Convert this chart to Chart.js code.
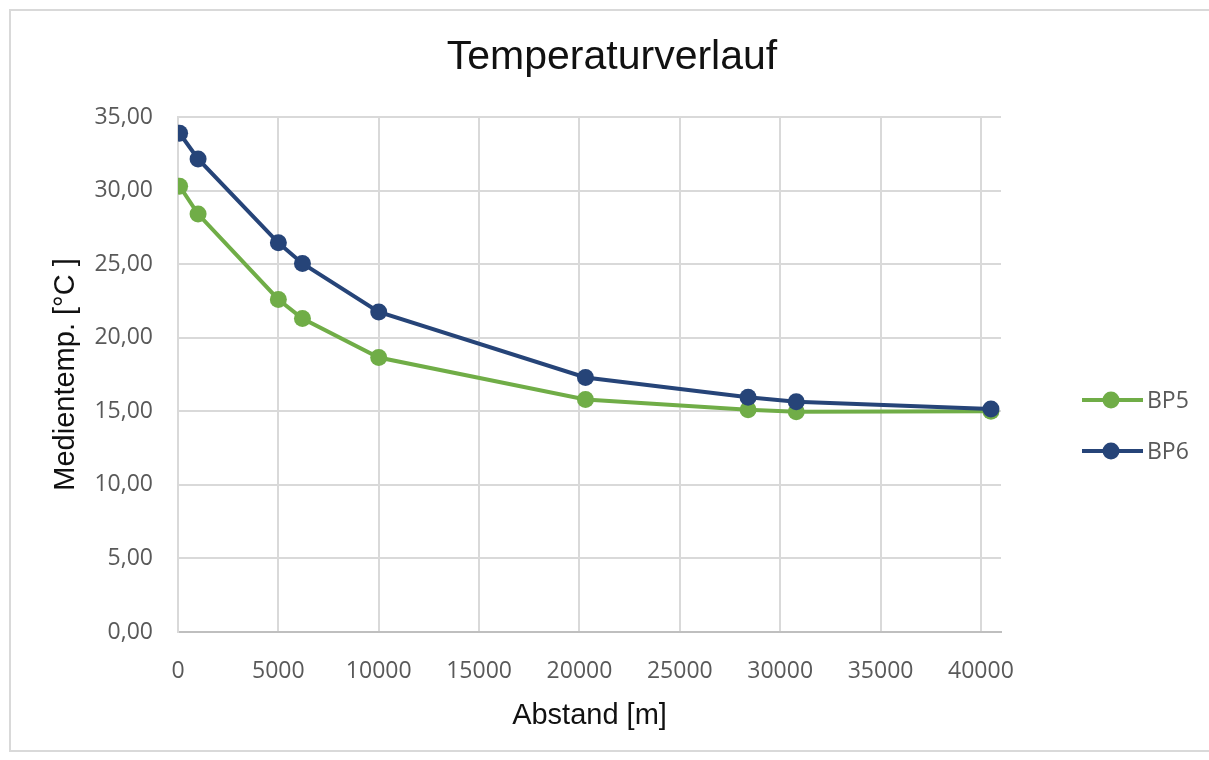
<!DOCTYPE html>
<html>
<head>
<meta charset="utf-8">
<script src="https://cdn.jsdelivr.net/npm/chart.js@4"></script>
<style>
  html, body { margin: 0; padding: 0; background: #ffffff; }
  #wrap { position: absolute; left: 0; top: 0; width: 1209px; height: 760px; }
</style>
</head>
<body>
<div id="wrap"><canvas id="c" width="1209" height="760"></canvas></div>
<script>
// ---- data ----
const distances = [80, 1000, 5000, 6200, 10000, 20300, 28400, 30800, 40500];
const bp5 = [30.3, 28.4, 22.6, 21.3, 18.65, 15.8, 15.1, 14.97, 15.0];
const bp6 = [33.9, 32.15, 26.45, 25.05, 21.75, 17.3, 15.95, 15.65, 15.15];
const seriesNames = ['BP5', 'BP6'];
const xTickValues = [0, 5000, 10000, 15000, 20000, 25000, 30000, 35000, 40000];
const yTickValues = [0, 5, 10, 15, 20, 25, 30, 35];
const chartTitle = 'Temperaturverlauf';
const xTitle = 'Abstand [m]';
const yTitle = 'Medientemp. [°C ]';

const GREEN = '#70AD47';
const BLUE = '#264478';
const GRID = '#D9D9D9';
const TICK = '#595959';
const TICKFONT = { family: '"Open Sans", "Noto Sans", sans-serif', size: 23 };
const TITLEFAMILY = '"Liberation Sans", Arial, sans-serif';

function pts(xs, ys) { return xs.map((x, i) => ({ x: x, y: ys[i] })); }

const frame = {
  id: 'frame',
  beforeDraw(chart) {
    const ctx = chart.ctx;
    ctx.save();
    ctx.fillStyle = '#ffffff';
    ctx.fillRect(0, 0, chart.width, chart.height);
    ctx.strokeStyle = '#D9D9D9';
    ctx.lineWidth = 2;
    ctx.strokeRect(10, 10, 1220, 741);
    ctx.restore();
  },
  afterDraw(chart) {
    const ctx = chart.ctx;
    ctx.save();
    ctx.fillStyle = '#111111';
    ctx.font = '41px ' + TITLEFAMILY;
    ctx.textAlign = 'center';
    ctx.textBaseline = 'middle';
    ctx.fillText(chartTitle, 612, 58);
    ctx.restore();
  }
};

const sideLegend = {
  id: 'sideLegend',
  afterDraw(chart) {
    const ctx = chart.ctx;
    const a = chart.chartArea;
    const x0 = a.right + 81;
    const yStart = a.top + 283;
    ctx.save();
    chart.data.datasets.forEach((ds, i) => {
      const y = yStart + i * 51;
      ctx.strokeStyle = ds.borderColor;
      ctx.lineWidth = 4;
      ctx.beginPath();
      ctx.moveTo(x0, y);
      ctx.lineTo(x0 + 61, y);
      ctx.stroke();
      ctx.fillStyle = ds.backgroundColor;
      ctx.beginPath();
      ctx.arc(x0 + 29, y, 8.5, 0, Math.PI * 2);
      ctx.fill();
      ctx.fillStyle = TICK;
      ctx.font = TICKFONT.size + 'px ' + TICKFONT.family;
      ctx.textAlign = 'left';
      ctx.textBaseline = 'middle';
      ctx.fillText(ds.label, x0 + 65, y + 1);
    });
    ctx.restore();
  }
};

new Chart(document.getElementById('c'), {
  type: 'line',
  data: {
    datasets: [
      {
        label: seriesNames[0], data: pts(distances, bp5),
        borderColor: GREEN, backgroundColor: GREEN, borderWidth: 4,
        pointRadius: 8.5, pointBackgroundColor: GREEN, pointBorderColor: GREEN, pointBorderWidth: 0,
        tension: 0, order: 1
      },
      {
        label: seriesNames[1], data: pts(distances, bp6),
        borderColor: BLUE, backgroundColor: BLUE, borderWidth: 4,
        pointRadius: 8.5, pointBackgroundColor: BLUE, pointBorderColor: BLUE, pointBorderWidth: 0,
        tension: 0, order: 0
      }
    ]
  },
  options: {
    responsive: false,
    animation: false,
    layout: { padding: { left: 0, right: 208, top: 117, bottom: 0 } },
    plugins: {
      legend: { display: false },
      tooltip: { enabled: false },
      title: { display: false }
    },
    scales: {
      x: {
        type: 'linear', min: 0, max: 41000,
        afterFit(s) { s.height = 128; },
        afterBuildTicks(s) { s.ticks = xTickValues.map(v => ({ value: v })); },
        ticks: {
          color: TICK, font: TICKFONT, padding: 26,
          maxRotation: 0, autoSkip: false,
          callback: (v) => String(v)
        },
        grid: { color: GRID, lineWidth: 2, drawTicks: false },
        border: { color: '#BFBFBF', width: 2 },
        title: {
          display: true, text: xTitle, color: '#111111',
          font: { family: TITLEFAMILY, size: 29, lineHeight: 1.2 },
          padding: { top: 0, bottom: 27 }
        }
      },
      y: {
        type: 'linear', min: 0, max: 35,
        afterFit(s) { s.width = 178; },
        afterBuildTicks(s) { s.ticks = yTickValues.map(v => ({ value: v })); },
        ticks: {
          color: TICK, font: TICKFONT, padding: 25,
          callback: (v) => v.toFixed(2).replace('.', ',')
        },
        grid: { color: GRID, lineWidth: 2, drawTicks: false },
        border: { color: GRID, width: 2 },
        title: {
          display: true, text: yTitle, color: '#111111',
          font: { family: TITLEFAMILY, size: 29, lineHeight: 1.2 },
          padding: { top: 49, bottom: 0 }
        }
      }
    }
  },
  plugins: [frame, sideLegend]
});
</script>
</body>
</html>
